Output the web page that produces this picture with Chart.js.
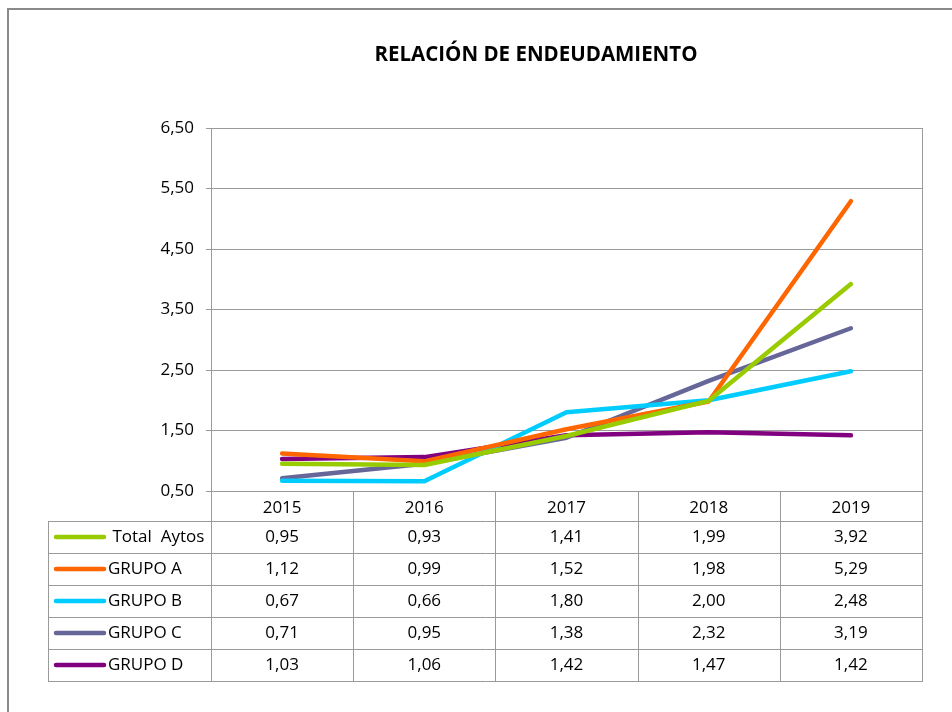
<!doctype html>
<html lang="es">
<head>
<meta charset="utf-8">
<title>Relación de endeudamiento</title>
<script src="https://cdn.jsdelivr.net/npm/chart.js"></script>
<style>
  body { margin: 0; background: #fff; }
  #wrap { width: 952px; height: 712px; }
</style>
</head>
<body>
<div id="wrap"><canvas id="grafica" width="952" height="712"></canvas></div>
<script>
// datos de la tabla
var years = ['2015', '2016', '2017', '2018', '2019'];
var seriesNames = [' Total  Aytos', 'GRUPO A', 'GRUPO B', 'GRUPO C', 'GRUPO D'];
var totalAytos = [0.95, 0.93, 1.41, 1.99, 3.92];
var grupoA = [1.12, 0.99, 1.52, 1.98, 5.29];
var grupoB = [0.67, 0.66, 1.80, 2.00, 2.48];
var grupoC = [0.71, 0.95, 1.38, 2.32, 3.19];
var grupoD = [1.03, 1.06, 1.42, 1.47, 1.42];
var yTicks = [0.5, 1.5, 2.5, 3.5, 4.5, 5.5, 6.5];

var colores = ['#99cc00', '#ff6600', '#00ccff', '#666699', '#800080'];
var valores = [totalAytos, grupoA, grupoB, grupoC, grupoD];
var gris = '#9a9a9a';
var fuente = '"Open Sans", sans-serif';

function coma(v) { return v.toFixed(2).replace('.', ','); }

// marco, título, borde del área y tabla de datos
var tablaPlugin = {
  id: 'tablaDatos',
  beforeDraw: function(chart) {
    var ctx = chart.ctx;
    ctx.save();
    ctx.strokeStyle = '#8a8a8a';
    ctx.lineWidth = 2;
    ctx.beginPath();
    ctx.moveTo(8, 712);
    ctx.lineTo(8, 9);
    ctx.lineTo(952, 9);
    ctx.stroke();
    ctx.fillStyle = '#000';
    ctx.font = 'bold 20.5px ' + fuente;
    ctx.textAlign = 'center';
    ctx.textBaseline = 'middle';
    ctx.fillText('RELACIÓN DE ENDEUDAMIENTO', 536, 55);
    ctx.restore();
  },
  afterDraw: function(chart) {
    var ctx = chart.ctx;
    var area = chart.chartArea;
    var colW = (area.right - area.left) / years.length;
    var headH = 30, rowH = 32, left = 48;
    var top = area.bottom + headH;
    var bottom = top + rowH * seriesNames.length;

    ctx.save();
    ctx.strokeStyle = gris;
    ctx.lineWidth = 1;
    ctx.beginPath();
    // borde derecho del área de trazado
    ctx.moveTo(area.right + 0.5, area.top);
    ctx.lineTo(area.right + 0.5, area.bottom);
    // columnas
    for (var i = 0; i <= years.length; i++) {
      var cx = Math.round(area.left + i * colW) + 0.5;
      ctx.moveTo(cx, area.bottom);
      ctx.lineTo(cx, bottom);
    }
    ctx.moveTo(left + 0.5, top);
    ctx.lineTo(left + 0.5, bottom);
    // filas
    for (var r = 0; r <= seriesNames.length; r++) {
      var ry = Math.round(top + r * rowH) + 0.5;
      ctx.moveTo(left, ry);
      ctx.lineTo(area.right + 1, ry);
    }
    ctx.stroke();

    ctx.font = '17px ' + fuente;
    ctx.textBaseline = 'middle';
    ctx.fillStyle = '#000';
    for (var s = 0; s < seriesNames.length; s++) {
      var my = top + s * rowH + rowH / 2;
      ctx.strokeStyle = colores[s];
      ctx.lineWidth = 4.5;
      ctx.lineCap = 'round';
      ctx.beginPath();
      ctx.moveTo(56, my);
      ctx.lineTo(104, my);
      ctx.stroke();
      ctx.textAlign = 'left';
      ctx.fillText(seriesNames[s], 108, my);
      ctx.textAlign = 'center';
      for (var k = 0; k < years.length; k++) {
        ctx.fillText(coma(valores[s][k]), area.left + (k + 0.5) * colW, my);
      }
    }
    ctx.restore();
  }
};

var datasets = seriesNames.map(function(n, i) {
  return {
    label: n.trim(),
    data: valores[i],
    borderColor: colores[i],
    backgroundColor: colores[i],
    borderWidth: 4.5,
    borderCapStyle: 'round',
    borderJoinStyle: 'round',
    pointRadius: 0,
    tension: 0
  };
});

new Chart(document.getElementById('grafica'), {
  type: 'line',
  data: { labels: years, datasets: datasets },
  plugins: [tablaPlugin],
  options: {
    responsive: false,
    animation: false,
    layout: { padding: { top: 128, right: 30, left: 0, bottom: 0 } },
    plugins: { legend: { display: false }, tooltip: { enabled: false } },
    scales: {
      y: {
        min: 0.5,
        max: 6.5,
        afterBuildTicks: function(scale) {
          scale.ticks = yTicks.map(function(v) { return { value: v }; });
        },
        afterFit: function(scale) { scale.width = 211; },
        ticks: {
          padding: 12,
          color: '#000',
          font: { family: fuente, size: 17 },
          callback: function(v) { return coma(v); }
        },
        grid: { color: gris, tickLength: 5, tickColor: gris },
        border: { color: gris }
      },
      x: {
        offset: true,
        afterFit: function(scale) { scale.height = 221; },
        ticks: {
          padding: -1,
          color: '#000',
          font: { family: fuente, size: 17 }
        },
        grid: { display: false },
        border: { color: gris }
      }
    }
  }
});
</script>
</body>
</html>
